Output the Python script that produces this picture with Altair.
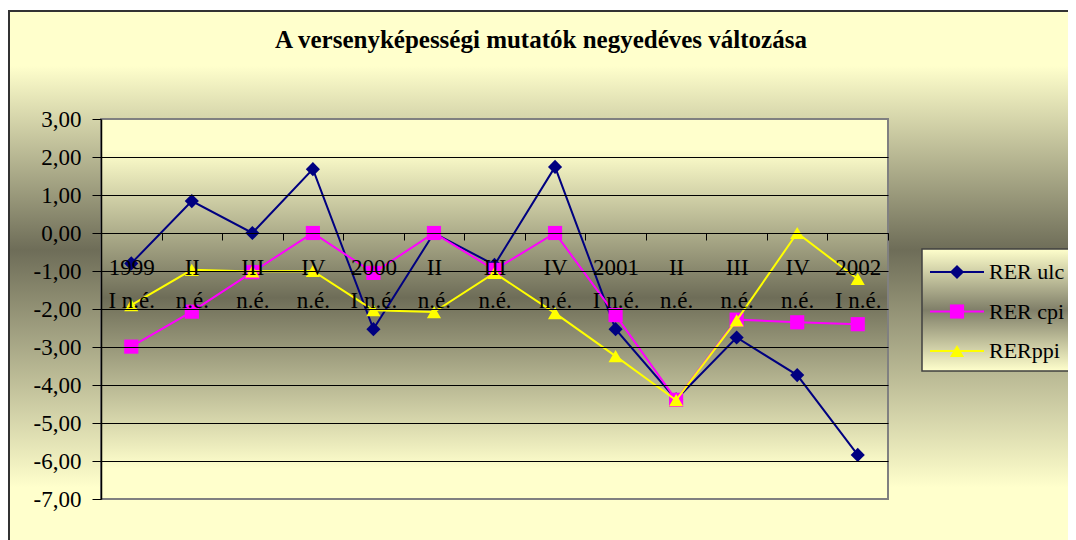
import altair as alt
import pandas as pd

# ---- data -------------------------------------------------------------
quarters = ["1999 I", "1999 II", "1999 III", "1999 IV",
            "2000 I", "2000 II", "2000 III", "2000 IV",
            "2001 I", "2001 II", "2001 III", "2001 IV",
            "2002 I"]
rer_ulc = [-0.80, 0.84, 0.00, 1.68, -2.53, 0.00, -0.84, 1.74, -2.53, -4.38, -2.75, -3.74, -5.84]
rer_cpi = [-2.99, -2.07, -1.03, 0.00, -1.05, 0.00, -0.97, 0.00, -2.16, -4.39, -2.28, -2.35, -2.40]
rer_ppi = [-1.90, -0.97, -1.01, -1.00, -2.03, -2.08, -1.05, -2.11, -3.24, -4.40, -2.30, 0.00, -1.21]

series_names = ["RER ulc", "RER cpi", "RERppi"]
series_values = [rer_ulc, rer_cpi, rer_ppi]
series_colors = ["#000080", "#FF00FF", "#FFFF00"]
series_shapes = ["diamond", "square", "triangle-up"]
y_ticks = [-7, -6, -5, -4, -3, -2, -1, 0, 1, 2, 3]
title_text = ["A versenyképességi mutatók negyedéves változása"]

rows = []
for name, vals in zip(series_names, series_values):
    for q, v in zip(quarters, vals):
        rows.append({"quarter": q, "series": name, "value": v})
df = pd.DataFrame(rows)
legend_df = pd.DataFrame({"series": series_names})
title_df = pd.DataFrame({"title": title_text})
one = pd.DataFrame({"k": [0]})

# ---- layout ------------------------------------------------------------
W, H = 787, 380
FONT = "Liberation Serif"
PALE = "#FFFFCC"

def grad(stops):
    return alt.LinearGradient(
        gradient="linear",
        stops=[alt.GradientStop(color=c, offset=o) for o, c in stops],
        x1=0, x2=0, y1=0, y2=1,
    )

color_scale = alt.Scale(domain=series_names, range=series_colors)
shape_scale = alt.Scale(domain=series_names, range=series_shapes)

x_axis = alt.Axis(
    title=None, labelAngle=0, labelFont=FONT, labelFontSize=23, labelColor="black",
    labelExpr="datum.label ? (split(datum.value, ' ')[1] == 'I' ? [split(datum.value, ' ')[0], 'I n.é.'] : [split(datum.value, ' ')[1], 'n.é.']) : ''",
    labelLineHeight=33, labelBaseline="top", labelPadding=16,
    offset=-266, tickBand="extent", tickSize=7, tickColor="black",
    domainColor="black", domainWidth=1, grid=False, zindex=1,
)
y_axis = alt.Axis(
    title=None, values=y_ticks, labelFont=FONT, labelFontSize=23, labelColor="black",
    labelExpr="(datum.value < 0 ? '-' : '') + replace(format(abs(datum.value), '.2f'), '.', ',')",
    labelPadding=11, labelFlush=False, tickSize=9, tickColor="black",
    domainColor="black", domainWidth=1.5, grid=True, gridWidth=1,
    gridColor=alt.condition("datum.value == 3 || datum.value == -7",
                            alt.value("transparent"), alt.value("black")),
    zindex=1,
)
X = alt.X("quarter:N", scale=alt.Scale(type="band", domain=quarters, paddingInner=0, paddingOuter=0), axis=x_axis)
Y = alt.Y("value:Q", scale=alt.Scale(domain=[-7, 3], nice=False, zero=False), axis=y_axis)

# outer chart frame (extends past the page edges like the cropped original)
frame = alt.Chart(one).mark_rect(
    fill=grad([(0, PALE), (0.10, PALE), (0.436, "#6E6D58"), (0.87, PALE), (1, PALE)]),
    stroke="#333333", strokeWidth=2,
).encode(x=alt.value(-92), x2=alt.value(W + 250), y=alt.value(-108), y2=alt.value(H + 60))

title = alt.Chart(title_df).mark_text(
    font=FONT, fontSize=25, fontWeight="bold", color="black",
    align="center", baseline="alphabetic",
).encode(x=alt.value(440), y=alt.value(-71), text="title:N")

# plot area background
plot_bg = alt.Chart(one).mark_rect(
    fill=grad([(0, PALE), (0.08, PALE), (0.47, "#6E6D58"), (0.92, PALE), (1, PALE)]),
    stroke="#808080", strokeWidth=2,
).encode(x=alt.value(0), x2=alt.value(W), y=alt.value(0), y2=alt.value(H))

layers = [frame, title, plot_bg]
for name in series_names:
    base = alt.Chart(df).transform_filter(alt.datum.series == name)
    layers.append(base.mark_line(strokeWidth=2).encode(
        x=X, y=Y, color=alt.Color("series:N", scale=color_scale, legend=None)))
    layers.append(base.mark_point(filled=True, opacity=1, size=200).encode(
        x=X, y=Y,
        color=alt.Color("series:N", scale=color_scale, legend=None),
        shape=alt.Shape("series:N", scale=shape_scale, legend=None)))
main = alt.layer(*layers)

# legend (custom, to show line + marker)
LY = alt.Y("series:N", scale=alt.Scale(type="point", domain=series_names, range=[153, 232], padding=0), axis=None)
leg_box = alt.Chart(one).mark_rect(
    fill=grad([(0, PALE), (0.5, "#807F69"), (1, PALE)]),
    stroke="#404040", strokeWidth=1.5,
).encode(x=alt.value(821), x2=alt.value(W + 250), y=alt.value(130), y2=alt.value(252))
leg_rule = alt.Chart(legend_df).mark_rule(strokeWidth=2).encode(
    x=alt.value(829), x2=alt.value(883), y=LY,
    color=alt.Color("series:N", scale=color_scale, legend=None))
leg_pt = alt.Chart(legend_df).mark_point(filled=True, opacity=1, size=200).encode(
    x=alt.value(856), y=LY,
    color=alt.Color("series:N", scale=color_scale, legend=None),
    shape=alt.Shape("series:N", scale=shape_scale, legend=None))
leg_txt = alt.Chart(legend_df).mark_text(
    align="left", baseline="middle", font=FONT, fontSize=22, color="black"
).encode(x=alt.value(888), y=LY, text="series:N")
legend = alt.layer(leg_box, leg_rule, leg_pt, leg_txt)

chart = alt.layer(main, legend).resolve_scale(y="independent").properties(
    width=W, height=H,
    autosize=alt.AutoSizeParams(type="none"),
    padding={"left": 93, "top": 111, "right": 180, "bottom": 41},
).configure_view(stroke=None)

chart.save("out.html", embed_options={"renderer": "svg", "actions": False})
